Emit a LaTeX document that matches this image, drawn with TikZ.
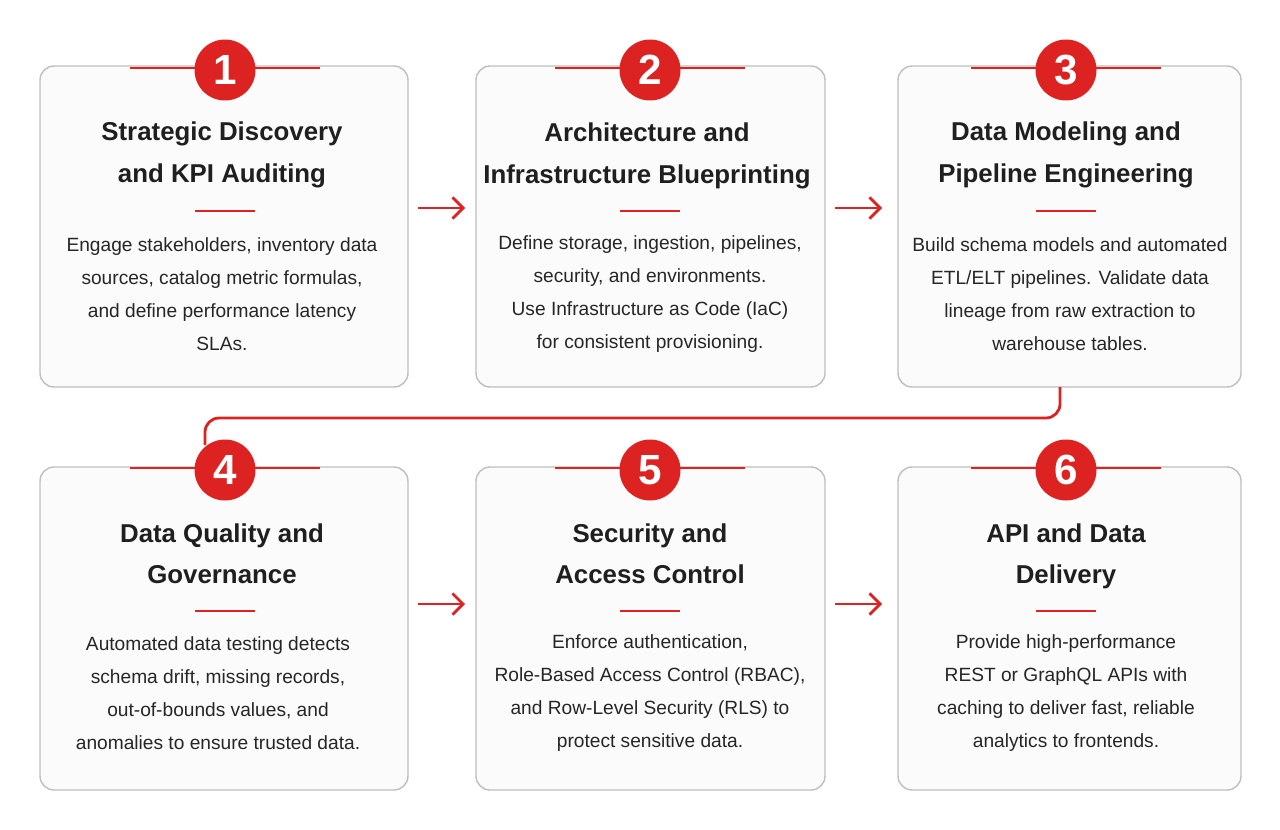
\documentclass[tikz,border=0pt]{standalone}
\usepackage{fontspec}
\setmainfont{Liberation Sans}
\usetikzlibrary{arrows.meta}
\definecolor{rd}{HTML}{DD2222}
\begin{document}
\begin{tikzpicture}[x=0.02cm,y=-0.02cm,
 box/.style={draw=black!25,line width=0.8pt,fill=black!1.5,rounded corners=8pt},
 num/.style={circle,fill=rd,minimum size=1.22cm,inner sep=0pt,text=white,font=\fontsize{24}{24}\selectfont\bfseries},
 red line/.style={draw=rd,line width=1.6pt},
 ttl/.style={align=center,font=\fontsize{14.7}{23.5}\selectfont\bfseries,text=black!88},
 body/.style={align=center,font=\fontsize{10.9}{18.8}\selectfont,text=black!85},
 arr/.style={red line,-{Straight Barb[length=6pt,width=12pt]}}]
\path[use as bounding box,fill=white] (0,0) rectangle (1280,829);
\foreach \n/\xa/\xb/\ya/\yb in {1/40/408/66/387,2/476/825/66/387,3/898/1241/66/387,4/40/408/467/790,5/476/825/467/790,6/898/1241/467/790}
  \draw[box] (\xa,\ya) rectangle (\xb,\yb) coordinate (b\n);
\coordinate (c3) at (1060,387);
\draw[red line,rounded corners=8pt] (c3) -- (1060,418) -- (205,418) -- (205,445);
\foreach \n/\cx/\cy in {1/225/70,2/650/70,3/1066/70,4/225/470,5/650/470,6/1066/470}{
  \draw[red line] (\cx-95,\cy-2) -- (\cx+95,\cy-2);
  \node[num] (n\n) at (\cx,\cy) {\n};
  \draw[red line] (\cx-30,\cy+141) -- (\cx+30,\cy+141);
}
\node[ttl] (t1) at (222,155) {Strategic Discovery\\and KPI Auditing};
\node[ttl] (t2) at (647,156) {Architecture and\\Infrastructure Blueprinting};
\node[ttl] (t3) at (1066,155) {Data Modeling and\\Pipeline Engineering};
\node[ttl] (t4) at (222,554) {Data Quality and\\Governance};
\node[ttl] (t5) at (650,554) {Security and\\Access Control};
\node[ttl] (t6) at (1066,556) {API and Data\\Delivery};
\node[body] (d1) at (222,294) {Engage stakeholders, inventory data\\sources, catalog metric formulas,\\and define performance latency\\SLAs.};
\node[body] (d2) at (650,294) {Define storage, ingestion, pipelines,\\security, and environments.\\Use Infrastructure as Code (IaC)\\for consistent provisioning.};
\node[body] (d3) at (1070,294) {Build schema models and automated\\ETL/ELT pipelines. Validate data\\lineage from raw extraction to\\warehouse tables.};
\node[body] (d4) at (218,693) {Automated data testing detects\\schema drift, missing records,\\out-of-bounds values, and\\anomalies to ensure trusted data.};
\node[body] (d5) at (650,693) {Enforce authentication,\\Role-Based Access Control (RBAC),\\and Row-Level Security (RLS) to\\protect sensitive data.};
\node[body] (d6) at (1066,693) {Provide high-performance\\REST or GraphQL APIs with\\caching to deliver fast, reliable\\analytics to frontends.};
\coordinate (a1) at (418,208); \coordinate (a2) at (465,208);
\coordinate (a3) at (835,208); \coordinate (a4) at (882,208);
\coordinate (a5) at (418,604); \coordinate (a6) at (465,604);
\coordinate (a7) at (835,604); \coordinate (a8) at (882,604);
\draw[arr] (a1) -- (a2); \draw[arr] (a3) -- (a4);
\draw[arr] (a5) -- (a6); \draw[arr] (a7) -- (a8);
\end{tikzpicture}
\end{document}
